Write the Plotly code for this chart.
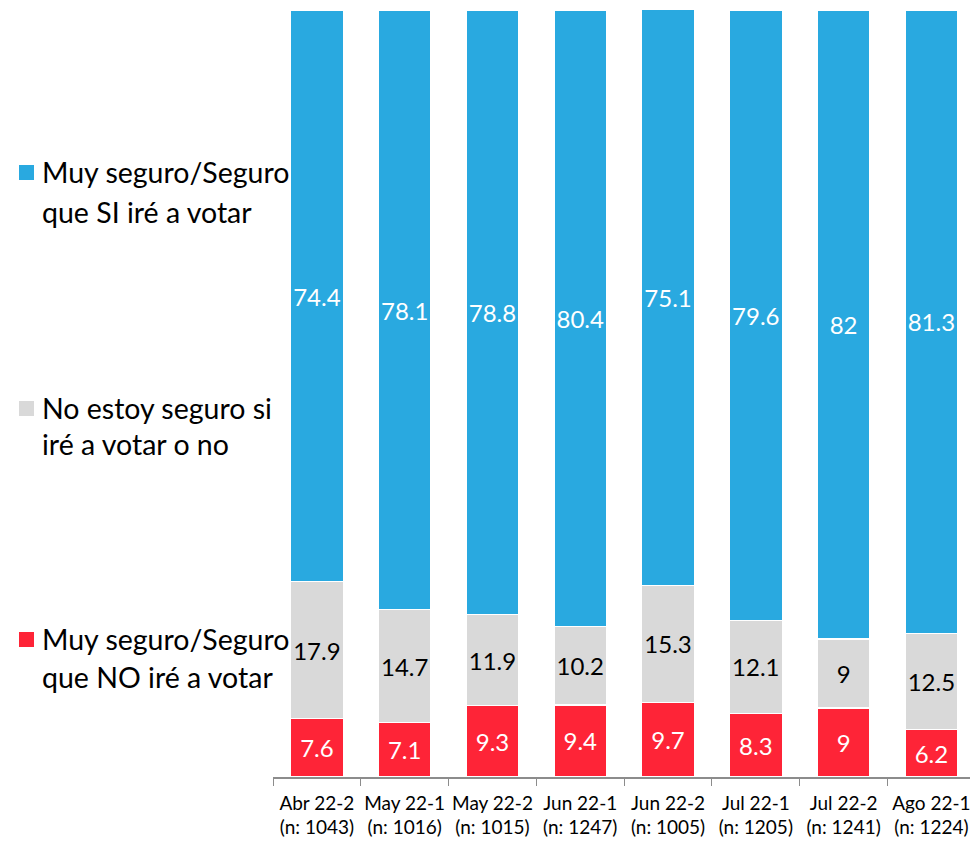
import plotly.graph_objects as go

# Survey waves and sample sizes
waves = ["Abr 22-2", "May 22-1", "May 22-2", "Jun 22-1", "Jun 22-2", "Jul 22-1", "Jul 22-2", "Ago 22-1"]
sample_n = [1043, 1016, 1015, 1247, 1005, 1205, 1241, 1224]

# Percentages per response
no_votara = [7.6, 7.1, 9.3, 9.4, 9.7, 8.3, 9, 6.2]
no_seguro = [17.9, 14.7, 11.9, 10.2, 15.3, 12.1, 9, 12.5]
si_votara = [74.4, 78.1, 78.8, 80.4, 75.1, 79.6, 82, 81.3]

series_names = [
    "Muy seguro/Seguro<br>que NO iré a votar",
    "No estoy seguro si<br>iré a votar o no",
    "Muy seguro/Seguro<br>que SI iré a votar",
]
colors = ["#FE2437", "#D9D9D9", "#29A9E0"]
label_colors = ["white", "black", "white"]

categories = [f"{w}<br>(n: {n})" for w, n in zip(waves, sample_n)]

FONT = "Lato"

fig = go.Figure()
for vals, name, col, lcol in zip([no_votara, no_seguro, si_votara], series_names, colors, label_colors):
    fig.add_trace(go.Bar(
        x=categories,
        y=vals,
        name=name,
        marker=dict(color=col, line=dict(color="white", width=1.2)),
        text=[f"{v:g}" for v in vals],
        textposition="inside",
        textangle=0,
        insidetextanchor="middle",
        constraintext="none",
        textfont=dict(family=FONT, size=24, color=lcol),
        showlegend=False,
    ))

# Plot-area geometry in pixels (for placing the legend in paper coords)
W, H = 970, 842
ml, mr, mt, mb = 273, 0, 10, 65
pw, ph = W - ml - mr, H - mt - mb

def px_x(x):
    return (x - ml) / pw

def px_y(y):
    return (H - mb - y) / ph

legend_items = [
    (colors[2], "Muy seguro/Seguro", "que SI iré a votar", 172, 212),
    (colors[1], "No estoy seguro si", "iré a votar o no", 408, 444),
    (colors[0], "Muy seguro/Seguro", "que NO iré a votar", 639, 677),
]

shapes = []
annotations = []
for col, l1, l2, y1, y2 in legend_items:
    shapes.append(dict(
        type="rect", xref="paper", yref="paper",
        x0=px_x(19), x1=px_x(34), y0=px_y(y1 + 8), y1=px_y(y1 - 7),
        fillcolor=col, line=dict(width=0), layer="above",
    ))
    for txt, yy in ((l1, y1), (l2, y2)):
        annotations.append(dict(
            xref="paper", yref="paper", x=px_x(40), y=px_y(yy),
            xanchor="left", yanchor="middle", showarrow=False,
            text=txt, font=dict(family=FONT, size=28.5, color="black"),
        ))

fig.update_layout(
    barmode="stack",
    bargap=0.4,
    width=W, height=H,
    margin=dict(l=ml, r=mr, t=mt, b=mb, autoexpand=False),
    plot_bgcolor="white",
    paper_bgcolor="white",
    font=dict(family=FONT),
    shapes=shapes,
    annotations=annotations,
    xaxis=dict(
        range=[-0.5, 7.44],
        tickson="boundaries",
        ticks="outside",
        ticklen=7,
        tickcolor="#8C8C8C",
        showline=True,
        linecolor="#8C8C8C",
        linewidth=1.5,
        tickangle=0,
        automargin=False,
        ticklabelstandoff=8,
        tickfont=dict(family=FONT, size=19, color="black"),
        showgrid=False,
    ),
    yaxis=dict(
        range=[0, 100],
        visible=False,
        showgrid=False,
        zeroline=False,
    ),
)

fig.write_html("out.html")
